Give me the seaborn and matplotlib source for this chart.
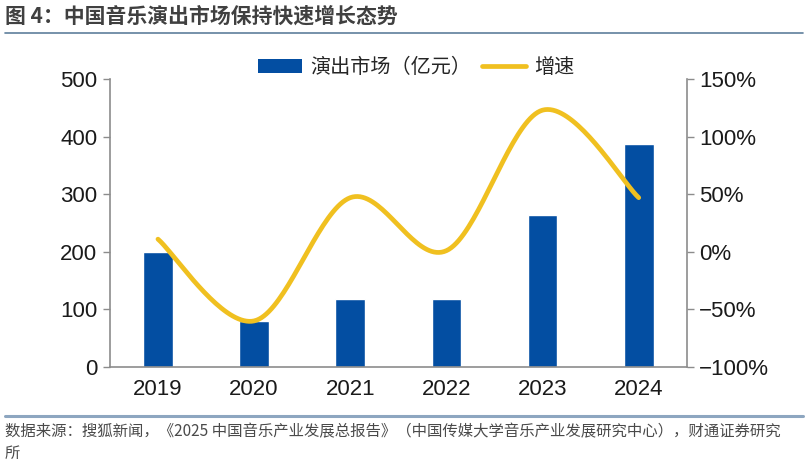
import numpy as np
import seaborn as sns
import matplotlib.pyplot as plt
from matplotlib.patches import Patch
from matplotlib.lines import Line2D
from matplotlib.ticker import FuncFormatter

years = ["2019", "2020", "2021", "2022", "2023", "2024"]
market = [200.2, 80.0, 117.6, 118.8, 264.5, 387.5]   # 亿元
growth = [11, -60, 47, 1, 123, 47]                    # %

title = "图 4：中国音乐演出市场保持快速增长态势"
source = ("数据来源：搜狐新闻，《2025 中国音乐产业发展总报告》（中国传媒大学音乐产业发展研究中心），财通证券研究\n所")
bar_label = "演出市场（亿元）"
line_label = "增速"

BLUE = "#034ea2"
YELLOW = "#f0c020"
GREY = "#8c8c8c"


def smooth(xs, ys, n=40):
    # excel-like smoothed line: catmull-rom bezier through the points
    pts = np.column_stack([xs, ys]).astype(float)
    ext = np.vstack([pts[0], pts, pts[-1]])
    out = []
    t = np.linspace(0, 1, n)[:, None]
    for i in range(1, len(ext) - 2):
        p0, p1, p2, p3 = ext[i - 1], ext[i], ext[i + 1], ext[i + 2]
        c1 = p1 + (p2 - p0) / 6
        c2 = p2 - (p3 - p1) / 6
        seg = ((1 - t) ** 3) * p1 + 3 * ((1 - t) ** 2) * t * c1 \
            + 3 * (1 - t) * t ** 2 * c2 + t ** 3 * p2
        out.append(seg if i == 1 else seg[1:])
    out = np.vstack(out)
    return out[:, 0], out[:, 1]


sns.set_theme(style="white")
plt.rcParams['font.family'] = ['Liberation Sans', 'Noto Sans CJK SC', 'DejaVu Sans']

fig = plt.figure(figsize=(8.08, 4.65), dpi=100)
ax = fig.add_axes([0.136, 0.2108, 0.714, 0.6192])

sns.barplot(x=years, y=market, color=BLUE, saturation=1, width=0.31, ax=ax)
ax.set_ylim(0, 500)
ax.set_xlim(-0.5, 5.5)
ax.set_yticks([0, 100, 200, 300, 400, 500])

ax2 = ax.twinx()
sx, sy = smooth(np.arange(len(years)), growth)
sns.lineplot(x=sx, y=sy, sort=False, color=YELLOW, linewidth=3.4, ax=ax2,
             solid_capstyle="round")
ax2.set_ylim(-100, 150)
ax2.set_yticks([-100, -50, 0, 50, 100, 150])
ax2.yaxis.set_major_formatter(
    FuncFormatter(lambda v, p: f"{v:.0f}%".replace("-", "\u2212")))

# categories in the middle, ticks on the boundaries
ax.set_xticks(np.arange(-0.5, 6, 1))
ax.set_xticklabels([])
ax.set_xticks(np.arange(len(years)), minor=True)
ax.set_xticklabels(years, minor=True)
ax.tick_params(axis="x", which="minor", length=0, pad=9, labelsize=16,
               labelcolor="#1a1a1a")
ax.tick_params(axis="x", which="major", length=6, width=1, color=GREY,
               direction="out")
ax.tick_params(axis="y", length=5, width=1, color=GREY, labelsize=16,
               labelcolor="#1a1a1a", pad=4, left=True)
ax2.tick_params(axis="y", length=5, width=1, color=GREY, labelsize=16,
                labelcolor="#1a1a1a", pad=4, right=True)
ax.set_xlabel("")
ax.set_ylabel("")
ax2.set_ylabel("")

for a in (ax, ax2):
    a.spines["top"].set_visible(False)
    for s in ("left", "right", "bottom"):
        a.spines[s].set_color(GREY)
        a.spines[s].set_linewidth(1.2)
    a.grid(False)
ax.spines["right"].set_visible(False)
ax2.spines["left"].set_visible(False)
ax2.spines["bottom"].set_visible(False)

handles = [Patch(facecolor=BLUE, edgecolor="none"),
           Line2D([], [], color=YELLOW, linewidth=3.4)]
fig.legend(handles, [bar_label, line_label], loc="center",
           bbox_to_anchor=(0.515, 0.854), ncol=2, frameon=False,
           handlelength=2.2, handleheight=0.7,
           columnspacing=0.5, handletextpad=0.4,
           prop={"family": ["Noto Sans CJK SC"], "size": 14.5})

# title, rules and source
fig.text(0.006, 0.966, title, fontsize=15, fontweight="bold",
         color="#404040", family=["Noto Sans CJK SC"], va="center")
fig.add_artist(Line2D([0.006, 0.994], [0.929, 0.929], color="#5f7f9c",
                      linewidth=1.2, transform=fig.transFigure))
fig.add_artist(Line2D([0.006, 0.994], [0.105, 0.105], color="#8da6c0",
                      linewidth=2.2, transform=fig.transFigure))
fig.text(0.006, 0.09, source, fontsize=11.1, color="#4a4a4a",
         family=["Noto Sans CJK SC"], va="top", linespacing=1.4)

fig.savefig("out.png", dpi=100)
